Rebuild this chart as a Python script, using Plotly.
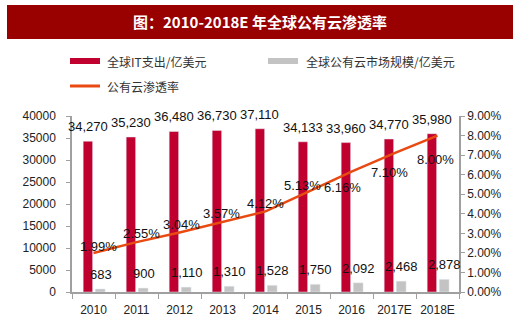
import plotly.graph_objects as go

categories = ["2010", "2011", "2012", "2013", "2014", "2015", "2016", "2017E", "2018E"]
it_spend = [34270, 35230, 36480, 36730, 37110, 34133, 33960, 34770, 35980]
cloud_market = [683, 900, 1110, 1310, 1528, 1750, 2092, 2468, 2878]
cloud_rate = [1.99, 2.55, 3.04, 3.57, 4.12, 5.13, 6.16, 7.10, 8.00]

title_text = "图：2010-2018E 年全球公有云渗透率"
name_it = "全球IT支出/亿美元"
name_cloud = "全球公有云市场规模/亿美元"
name_rate = "公有云渗透率"

RED = "#C0002F"
GREY = "#C3C3C3"
ORANGE = "#E84A12"
BANNER = "#990000"
AXIS = "#A0A0A0"
NUM_FONT = "Liberation Sans, Arial, sans-serif"
CJK_FONT = "Noto Sans CJK SC, sans-serif"

# label offsets for the rate labels (pixels): (dx, dy)
rate_shift = [(5, 7), (5, 9), (2, 8), (-1, 9), (0, 8), (-6, 6), (-9, -16), (-5, -19), (-2, -24)]

fig = go.Figure()

fig.add_trace(go.Bar(
    x=categories, y=it_spend, name=name_it, marker_color=RED,
    width=0.22, offset=-0.24, showlegend=False, hoverinfo="skip",
))
fig.add_trace(go.Bar(
    x=categories, y=cloud_market, name=name_cloud, marker_color=GREY,
    width=0.23, offset=0.04, showlegend=False, hoverinfo="skip",
))
fig.add_trace(go.Scatter(
    x=categories, y=cloud_rate, name=name_rate, yaxis="y2", mode="lines",
    line=dict(color=ORANGE, width=2.5), showlegend=False, hoverinfo="skip",
))

annotations = []
for i, v in enumerate(it_spend):
    annotations.append(dict(
        x=i, y=v, xref="x", yref="y", text=f"{v:,}", showarrow=False,
        xanchor="center", yanchor="bottom", xshift=-6, yshift=5,
        font=dict(family=NUM_FONT, size=13, color="#111"),
    ))
for i, v in enumerate(cloud_market):
    annotations.append(dict(
        x=i, y=v, xref="x", yref="y", text=f"{v:,}", showarrow=False,
        xanchor="center", yanchor="bottom", xshift=7, yshift=5,
        font=dict(family=NUM_FONT, size=13, color="#111"),
    ))
for i, (v, (dx, dy)) in enumerate(zip(cloud_rate, rate_shift)):
    annotations.append(dict(
        x=i, y=v, xref="x", yref="y2", text=f"{v:.2f}%", showarrow=False,
        xanchor="center", yanchor="middle", xshift=dx, yshift=dy,
        font=dict(family=NUM_FONT, size=13, color="#111"),
    ))

# title banner text
annotations.append(dict(
    x=260, y=22, xref="paper", yref="paper", text=f"<b>{title_text}</b>",
    showarrow=False, xanchor="center", yanchor="middle",
    font=dict(family=CJK_FONT, size=15, color="white"),
))

# legend texts
legend_font = dict(family=CJK_FONT, size=12, color="#333")
annotations += [
    dict(x=105, y=61, xref="paper", yref="paper", text=name_it, showarrow=False, xanchor="left", yanchor="middle", font=legend_font),
    dict(x=304, y=61, xref="paper", yref="paper", text=name_cloud, showarrow=False, xanchor="left", yanchor="middle", font=legend_font),
    dict(x=105, y=86, xref="paper", yref="paper", text=name_rate, showarrow=False, xanchor="left", yanchor="middle", font=legend_font),
]

W, H = 520, 330
ML, MR, MT, MB = 72, 61, 116, 38


def px_to_paper(a):
    a = dict(a)
    if a.get("xref") == "paper" and a.get("yref") == "paper":
        a["x"] = (a["x"] - ML) / (W - ML - MR)
        a["y"] = (H - MB - a["y"]) / (H - MT - MB)
    return a


annotations = [px_to_paper(a) for a in annotations]


def rect(x0, y0, x1, y1, color):
    return dict(
        type="rect", xref="paper", yref="paper",
        x0=(x0 - ML) / (W - ML - MR), x1=(x1 - ML) / (W - ML - MR),
        y0=(H - MB - y0) / (H - MT - MB), y1=(H - MB - y1) / (H - MT - MB),
        fillcolor=color, line=dict(width=0), layer="below",
    )


shapes = [
    rect(7, 5, 513, 39, BANNER),
    rect(70, 58, 100, 64, RED),
    rect(268, 58, 298, 64, GREY),
    rect(70, 84.5, 100, 87.5, ORANGE),
]

fig.update_layout(
    width=W, height=H,
    margin=dict(l=ML, r=MR, t=MT, b=MB),
    paper_bgcolor="white", plot_bgcolor="white",
    barmode="overlay",
    showlegend=False,
    annotations=annotations,
    shapes=shapes,
    xaxis=dict(
        type="category", range=[-0.5, 8.5], showgrid=False, zeroline=False,
        showline=True, linecolor=AXIS, linewidth=1.5, tickangle=0,
        ticks="outside", tickson="boundaries", ticklen=5, tickcolor=AXIS,
        ticklabelstandoff=6,
        tickfont=dict(family=NUM_FONT, size=12, color="#222"),
    ),
    yaxis=dict(
        range=[0, 40000], dtick=5000, tickformat="d", showgrid=False, zeroline=False,
        showline=True, linecolor=AXIS, linewidth=1.5,
        ticks="outside", ticklen=4, tickcolor=AXIS, ticklabelstandoff=8,
        tickfont=dict(family=NUM_FONT, size=12, color="#222"),
    ),
    yaxis2=dict(
        range=[0, 9], dtick=1, tickformat=".2f", ticksuffix="%", overlaying="y", side="right",
        showgrid=False, zeroline=False,
        showline=True, linecolor=AXIS, linewidth=1.5,
        ticks="outside", ticklen=4, tickcolor=AXIS,
        tickfont=dict(family=NUM_FONT, size=12, color="#222"),
    ),
)

fig.write_html("out.html")
